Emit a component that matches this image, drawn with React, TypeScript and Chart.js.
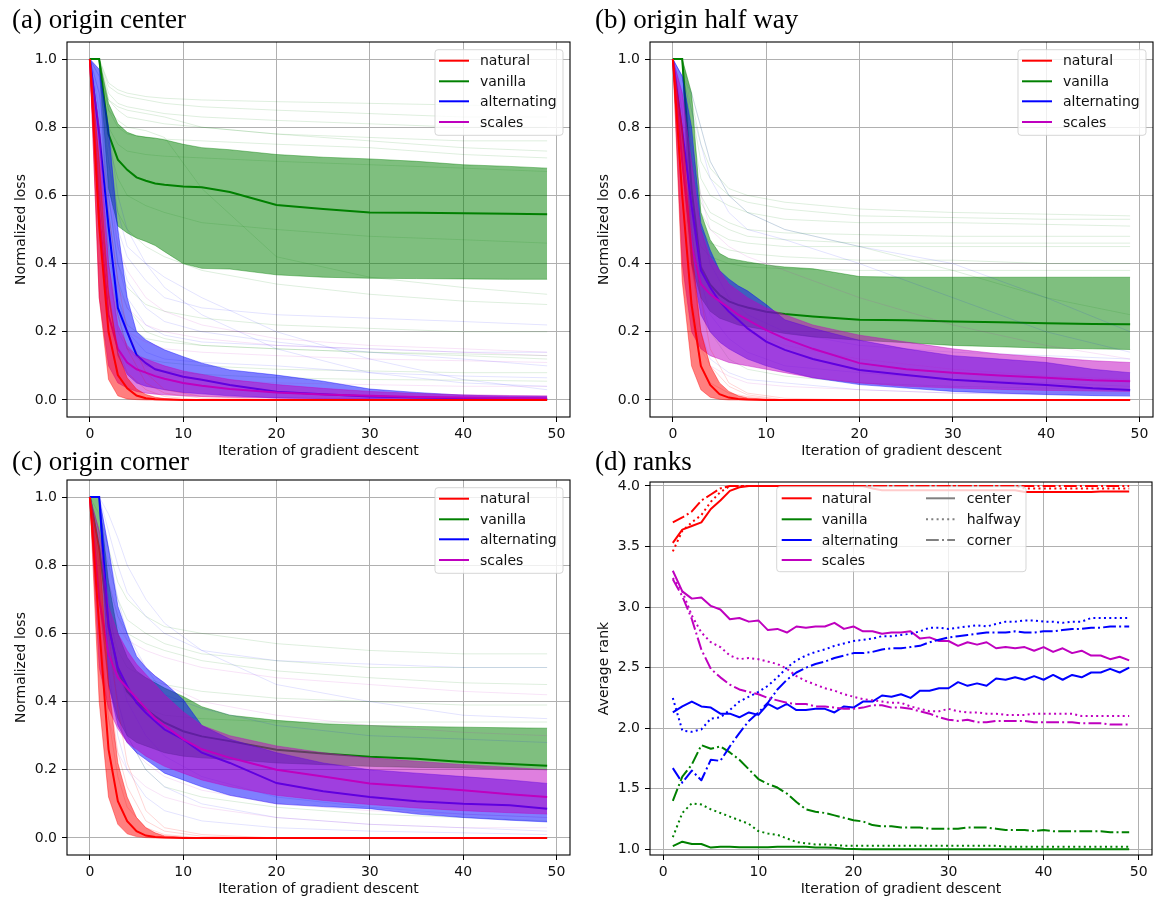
import React, { useEffect, useRef } from 'react';
import { Chart, registerables } from 'chart.js';

Chart.register(...registerables);
Chart.defaults.font.family = '"DejaVu Sans", sans-serif';
Chart.defaults.font.size = 14;
Chart.defaults.color = '#111';

// ---------- shared x grids ----------
const XS = [0, 1, 2, 3, 4, 5, 6, 7, 8, 10, 12, 15, 20, 25, 30, 35, 40, 45, 49];
const FX = [0, 1, 2, 3, 4, 6, 8, 12, 20, 30, 40, 49];
const LOSS_X_TICKS = [0, 10, 20, 30, 40, 50];
const LOSS_Y_TICKS = [0, 0.2, 0.4, 0.6, 0.8, 1.0];
const RANK_Y_TICKS = [1.0, 1.5, 2.0, 2.5, 3.0, 3.5, 4.0];
const METHOD_LABELS = ['natural', 'vanilla', 'alternating', 'scales'];
const ORIGIN_LABELS = ['center', 'halfway', 'corner'];

// ---------- (a) origin center ----------
const A_NAT_MED = [1, 0.51, 0.2, 0.073, 0.034, 0.013, 0.005, 0.002, 0.001, 0, 0, 0, 0, 0, 0, 0, 0, 0, 0];
const A_NAT_HI = [1, 0.7, 0.32, 0.14, 0.065, 0.032, 0.016, 0.008, 0.004, 0.001, 0, 0, 0, 0, 0, 0, 0, 0, 0];
const A_NAT_LO = [1, 0.3, 0.06, 0.012, 0.003, 0.001, 0, 0, 0, 0, 0, 0, 0, 0, 0, 0, 0, 0, 0];
const A_VAN_MED = [1, 1, 0.78, 0.705, 0.675, 0.653, 0.643, 0.635, 0.631, 0.626, 0.624, 0.61, 0.572, 0.56, 0.55, 0.549, 0.548, 0.546, 0.545];
const A_VAN_HI = [1, 1, 0.87, 0.81, 0.785, 0.775, 0.771, 0.768, 0.763, 0.75, 0.74, 0.734, 0.72, 0.712, 0.707, 0.7, 0.69, 0.685, 0.68];
const A_VAN_LO = [1, 1, 0.62, 0.51, 0.49, 0.475, 0.465, 0.453, 0.435, 0.4, 0.386, 0.384, 0.367, 0.36, 0.357, 0.356, 0.355, 0.354, 0.354];
const A_ALT_MED = [1, 0.78, 0.51, 0.27, 0.2, 0.132, 0.108, 0.09, 0.083, 0.068, 0.059, 0.044, 0.024, 0.017, 0.01, 0.007, 0.005, 0.004, 0.003];
const A_ALT_HI = [1, 0.97, 0.8, 0.5, 0.3, 0.2, 0.176, 0.161, 0.147, 0.127, 0.108, 0.088, 0.073, 0.055, 0.032, 0.022, 0.014, 0.011, 0.01];
const A_ALT_LO = [1, 0.6, 0.3, 0.13, 0.075, 0.05, 0.04, 0.035, 0.03, 0.022, 0.018, 0.012, 0.006, 0.004, 0.003, 0.002, 0.001, 0.001, 0.001];
const A_SCA_MED = [1, 0.55, 0.25, 0.15, 0.11, 0.09, 0.08, 0.07, 0.062, 0.05, 0.042, 0.032, 0.022, 0.016, 0.012, 0.009, 0.007, 0.006, 0.005];
const A_SCA_HI = [1, 0.8, 0.4, 0.22, 0.16, 0.13, 0.12, 0.11, 0.1, 0.085, 0.075, 0.06, 0.045, 0.034, 0.025, 0.019, 0.015, 0.013, 0.012];
const A_SCA_LO = [1, 0.3, 0.1, 0.05, 0.035, 0.025, 0.02, 0.017, 0.015, 0.012, 0.01, 0.008, 0.005, 0.003, 0.002, 0.001, 0.001, 0.001, 0.001];
const A_TRAJ_NAT = [
  [1, 0.7, 0.4, 0.25, 0.15, 0.05, 0.02, 0.005, 0, 0, 0, 0],
  [1, 0.8, 0.55, 0.35, 0.2, 0.08, 0.03, 0.01, 0, 0, 0, 0],
  [1, 0.6, 0.3, 0.15, 0.08, 0.03, 0.01, 0, 0, 0, 0, 0],
];
const A_TRAJ_VAN = [
  [1, 1, 0.93, 0.91, 0.9, 0.89, 0.885, 0.88, 0.875, 0.87, 0.865, 0.86],
  [1, 1, 0.92, 0.9, 0.89, 0.88, 0.87, 0.86, 0.85, 0.84, 0.83, 0.83],
  [1, 1, 0.9, 0.87, 0.86, 0.85, 0.84, 0.83, 0.82, 0.81, 0.8, 0.8],
  [1, 1, 0.88, 0.86, 0.85, 0.84, 0.83, 0.8, 0.78, 0.77, 0.76, 0.76],
  [1, 1, 0.88, 0.85, 0.83, 0.82, 0.81, 0.8, 0.78, 0.76, 0.74, 0.73],
  [1, 1, 0.85, 0.8, 0.78, 0.77, 0.765, 0.76, 0.75, 0.74, 0.72, 0.71],
  [1, 1, 0.8, 0.75, 0.73, 0.72, 0.715, 0.71, 0.7, 0.69, 0.68, 0.67],
  [1, 1, 0.75, 0.65, 0.6, 0.57, 0.55, 0.52, 0.5, 0.48, 0.47, 0.46],
  [1, 1, 0.7, 0.55, 0.5, 0.45, 0.42, 0.38, 0.34, 0.31, 0.29, 0.28],
  [1, 1, 0.6, 0.4, 0.33, 0.28, 0.26, 0.24, 0.22, 0.21, 0.2, 0.2],
  [1, 1, 0.55, 0.35, 0.27, 0.2, 0.18, 0.16, 0.15, 0.14, 0.13, 0.12],
  [1, 1, 0.5, 0.3, 0.22, 0.18, 0.17, 0.16, 0.15, 0.14, 0.135, 0.13],
  [1, 1, 0.4, 0.2, 0.15, 0.12, 0.11, 0.1, 0.09, 0.085, 0.08, 0.08],
  [1, 1, 0.45, 0.25, 0.15, 0.1, 0.085, 0.075, 0.065, 0.06, 0.058, 0.055],
  [1, 1, 0.85, 0.82, 0.8, 0.79, 0.77, 0.62, 0.42, 0.36, 0.33, 0.31],
];
const A_TRAJ_ALT = [
  [1, 0.9, 0.7, 0.5, 0.42, 0.35, 0.3, 0.27, 0.25, 0.24, 0.23, 0.22],
  [1, 0.85, 0.6, 0.4, 0.3, 0.22, 0.19, 0.17, 0.16, 0.15, 0.14, 0.14],
  [1, 0.9, 0.65, 0.45, 0.35, 0.27, 0.23, 0.2, 0.17, 0.14, 0.12, 0.1],
  [1, 0.8, 0.5, 0.3, 0.2, 0.14, 0.12, 0.11, 0.1, 0.08, 0.07, 0.065],
  [1, 0.95, 0.75, 0.55, 0.45, 0.4, 0.36, 0.3, 0.2, 0.12, 0.06, 0.03],
  [1, 0.95, 0.8, 0.6, 0.5, 0.4, 0.33, 0.25, 0.15, 0.08, 0.05, 0.04],
];
const A_TRAJ_SCA = [
  [1, 0.8, 0.6, 0.45, 0.38, 0.3, 0.26, 0.22, 0.18, 0.16, 0.15, 0.14],
  [1, 0.7, 0.45, 0.33, 0.27, 0.22, 0.2, 0.18, 0.16, 0.15, 0.14, 0.13],
  [1, 0.6, 0.35, 0.25, 0.2, 0.17, 0.15, 0.14, 0.13, 0.12, 0.115, 0.11],
  [1, 0.5, 0.25, 0.15, 0.1, 0.08, 0.07, 0.06, 0.05, 0.045, 0.04, 0.04],
];

// ---------- (b) origin half way ----------
const B_NAT_MED = [1, 0.6, 0.28, 0.1, 0.044, 0.017, 0.007, 0.003, 0.001, 0, 0, 0, 0, 0, 0, 0, 0, 0, 0];
const B_NAT_HI = [1, 0.8, 0.45, 0.2, 0.1, 0.05, 0.025, 0.012, 0.006, 0.002, 0, 0, 0, 0, 0, 0, 0, 0, 0];
const B_NAT_LO = [1, 0.35, 0.1, 0.03, 0.008, 0.002, 0, 0, 0, 0, 0, 0, 0, 0, 0, 0, 0, 0, 0];
const B_VAN_MED = [1, 1, 0.62, 0.39, 0.338, 0.308, 0.289, 0.279, 0.271, 0.259, 0.252, 0.245, 0.235, 0.234, 0.23, 0.228, 0.225, 0.223, 0.222];
const B_VAN_HI = [1, 1, 0.9, 0.55, 0.47, 0.43, 0.415, 0.41, 0.405, 0.396, 0.39, 0.385, 0.362, 0.36, 0.36, 0.36, 0.36, 0.36, 0.36];
const B_VAN_LO = [1, 1, 0.4, 0.3, 0.26, 0.24, 0.23, 0.22, 0.215, 0.205, 0.195, 0.185, 0.175, 0.168, 0.16, 0.156, 0.152, 0.15, 0.148];
const B_ALT_MED = [1, 0.79, 0.57, 0.38, 0.33, 0.289, 0.259, 0.235, 0.21, 0.171, 0.147, 0.12, 0.088, 0.073, 0.059, 0.051, 0.044, 0.034, 0.029];
const B_ALT_HI = [1, 0.95, 0.8, 0.52, 0.44, 0.38, 0.355, 0.335, 0.32, 0.28, 0.235, 0.21, 0.175, 0.15, 0.13, 0.12, 0.11, 0.09, 0.08];
const B_ALT_LO = [1, 0.7, 0.4, 0.25, 0.2, 0.17, 0.15, 0.135, 0.12, 0.1, 0.085, 0.065, 0.045, 0.035, 0.025, 0.02, 0.016, 0.013, 0.012];
const B_SCA_MED = [1, 0.7, 0.45, 0.34, 0.31, 0.29, 0.27, 0.25, 0.235, 0.205, 0.18, 0.15, 0.108, 0.09, 0.08, 0.072, 0.065, 0.058, 0.055];
const B_SCA_HI = [1, 0.9, 0.7, 0.5, 0.42, 0.38, 0.34, 0.32, 0.3, 0.27, 0.25, 0.22, 0.19, 0.17, 0.15, 0.135, 0.125, 0.115, 0.11];
const B_SCA_LO = [1, 0.4, 0.2, 0.15, 0.13, 0.12, 0.11, 0.105, 0.1, 0.09, 0.08, 0.065, 0.05, 0.04, 0.035, 0.031, 0.028, 0.026, 0.025];
const B_TRAJ_NAT = [
  [1, 0.8, 0.5, 0.3, 0.15, 0.05, 0.02, 0.005, 0, 0, 0, 0],
  [1, 0.6, 0.25, 0.1, 0.05, 0.02, 0.01, 0, 0, 0, 0, 0],
  [1, 0.7, 0.4, 0.2, 0.1, 0.04, 0.015, 0, 0, 0, 0, 0],
];
const B_TRAJ_VAN = [
  [1, 1, 0.88, 0.75, 0.68, 0.62, 0.6, 0.58, 0.56, 0.55, 0.545, 0.54],
  [1, 1, 0.85, 0.7, 0.65, 0.6, 0.58, 0.56, 0.54, 0.535, 0.53, 0.53],
  [1, 1, 0.8, 0.65, 0.6, 0.57, 0.55, 0.53, 0.52, 0.52, 0.515, 0.51],
  [1, 1, 0.75, 0.6, 0.55, 0.52, 0.5, 0.49, 0.485, 0.48, 0.48, 0.48],
  [1, 1, 0.72, 0.58, 0.53, 0.5, 0.48, 0.47, 0.46, 0.46, 0.46, 0.46],
  [1, 1, 0.7, 0.55, 0.5, 0.47, 0.46, 0.45, 0.45, 0.45, 0.45, 0.45],
  [1, 1, 0.65, 0.5, 0.46, 0.44, 0.43, 0.42, 0.41, 0.41, 0.4, 0.4],
  [1, 1, 0.6, 0.45, 0.42, 0.4, 0.39, 0.385, 0.38, 0.38, 0.38, 0.38],
  [1, 1, 0.9, 0.8, 0.7, 0.6, 0.55, 0.5, 0.45, 0.38, 0.3, 0.25],
  [1, 1, 0.5, 0.3, 0.2, 0.12, 0.09, 0.07, 0.05, 0.04, 0.035, 0.03],
];
const B_TRAJ_ALT = [
  [1, 0.95, 0.85, 0.75, 0.65, 0.55, 0.5, 0.47, 0.4, 0.3, 0.2, 0.14],
  [1, 0.95, 0.9, 0.8, 0.7, 0.6, 0.55, 0.5, 0.45, 0.4, 0.3, 0.2],
  [1, 0.9, 0.7, 0.5, 0.4, 0.3, 0.25, 0.2, 0.16, 0.14, 0.13, 0.12],
  [1, 0.85, 0.55, 0.35, 0.25, 0.18, 0.14, 0.1, 0.08, 0.06, 0.05, 0.04],
  [1, 0.8, 0.4, 0.2, 0.12, 0.08, 0.06, 0.05, 0.03, 0.02, 0.015, 0.01],
];
const B_TRAJ_SCA = [
  [1, 0.9, 0.75, 0.6, 0.5, 0.45, 0.42, 0.38, 0.3, 0.22, 0.16, 0.12],
  [1, 0.85, 0.55, 0.4, 0.32, 0.25, 0.2, 0.16, 0.12, 0.09, 0.07, 0.06],
  [1, 0.7, 0.3, 0.15, 0.1, 0.07, 0.05, 0.04, 0.03, 0.02, 0.02, 0.02],
];

// ---------- (c) origin corner ----------
const C_NAT_MED = [1, 0.62, 0.26, 0.108, 0.049, 0.02, 0.007, 0.003, 0.001, 0, 0, 0, 0, 0, 0, 0, 0, 0, 0];
const C_NAT_HI = [1, 0.85, 0.45, 0.22, 0.12, 0.06, 0.03, 0.015, 0.006, 0.002, 0, 0, 0, 0, 0, 0, 0, 0, 0];
const C_NAT_LO = [1, 0.4, 0.12, 0.04, 0.012, 0.004, 0.001, 0, 0, 0, 0, 0, 0, 0, 0, 0, 0, 0, 0];
const C_VAN_MED = [1, 0.85, 0.63, 0.49, 0.43, 0.4, 0.377, 0.357, 0.338, 0.313, 0.298, 0.284, 0.259, 0.248, 0.238, 0.232, 0.223, 0.217, 0.212];
const C_VAN_HI = [1, 1, 0.75, 0.6, 0.53, 0.49, 0.47, 0.455, 0.44, 0.415, 0.385, 0.36, 0.345, 0.335, 0.33, 0.327, 0.325, 0.323, 0.322];
const C_VAN_LO = [1, 0.7, 0.45, 0.35, 0.3, 0.28, 0.27, 0.26, 0.25, 0.24, 0.235, 0.23, 0.22, 0.215, 0.21, 0.207, 0.205, 0.202, 0.2];
const C_ALT_MED = [1, 1, 0.62, 0.5, 0.445, 0.396, 0.367, 0.342, 0.318, 0.289, 0.25, 0.22, 0.161, 0.137, 0.12, 0.108, 0.1, 0.096, 0.086];
const C_ALT_HI = [1, 1, 0.85, 0.68, 0.6, 0.533, 0.5, 0.475, 0.455, 0.406, 0.33, 0.29, 0.25, 0.22, 0.2, 0.19, 0.18, 0.17, 0.16];
const C_ALT_LO = [1, 1, 0.45, 0.33, 0.28, 0.25, 0.23, 0.21, 0.19, 0.17, 0.15, 0.125, 0.1, 0.092, 0.086, 0.07, 0.06, 0.052, 0.047];
const C_SCA_MED = [1, 0.7, 0.54, 0.47, 0.44, 0.41, 0.38, 0.35, 0.33, 0.29, 0.26, 0.235, 0.2, 0.18, 0.16, 0.15, 0.14, 0.128, 0.12];
const C_SCA_HI = [1, 0.9, 0.68, 0.6, 0.55, 0.51, 0.48, 0.45, 0.42, 0.37, 0.33, 0.3, 0.27, 0.25, 0.235, 0.225, 0.215, 0.207, 0.2];
const C_SCA_LO = [1, 0.5, 0.38, 0.32, 0.28, 0.26, 0.24, 0.225, 0.21, 0.19, 0.17, 0.15, 0.125, 0.11, 0.098, 0.088, 0.08, 0.074, 0.07];
const C_TRAJ_NAT = [
  [1, 0.75, 0.45, 0.25, 0.15, 0.05, 0.02, 0.005, 0, 0, 0, 0],
  [1, 0.85, 0.6, 0.38, 0.22, 0.08, 0.03, 0.01, 0, 0, 0, 0],
  [1, 0.65, 0.35, 0.18, 0.09, 0.03, 0.01, 0, 0, 0, 0, 0],
];
const C_TRAJ_VAN = [
  [1, 0.95, 0.85, 0.75, 0.7, 0.65, 0.62, 0.6, 0.57, 0.55, 0.54, 0.54],
  [1, 0.9, 0.8, 0.7, 0.64, 0.6, 0.57, 0.54, 0.52, 0.5, 0.5, 0.5],
  [1, 0.9, 0.75, 0.65, 0.6, 0.57, 0.55, 0.52, 0.49, 0.47, 0.455, 0.45],
  [1, 0.85, 0.65, 0.55, 0.5, 0.47, 0.45, 0.43, 0.41, 0.4, 0.39, 0.39],
  [1, 0.8, 0.6, 0.48, 0.42, 0.38, 0.36, 0.35, 0.34, 0.34, 0.34, 0.34],
  [1, 0.8, 0.55, 0.4, 0.3, 0.2, 0.15, 0.12, 0.09, 0.07, 0.06, 0.05],
];
const C_TRAJ_ALT = [
  [1, 1, 0.95, 0.88, 0.8, 0.7, 0.63, 0.55, 0.45, 0.4, 0.36, 0.35],
  [1, 1, 0.9, 0.8, 0.72, 0.65, 0.6, 0.55, 0.52, 0.51, 0.5, 0.5],
  [1, 1, 0.85, 0.7, 0.6, 0.5, 0.42, 0.38, 0.33, 0.3, 0.29, 0.28],
  [1, 1, 0.7, 0.5, 0.4, 0.3, 0.24, 0.18, 0.12, 0.09, 0.07, 0.06],
  [1, 1, 0.6, 0.4, 0.3, 0.2, 0.15, 0.1, 0.06, 0.04, 0.03, 0.02],
  [1, 1, 0.5, 0.3, 0.2, 0.12, 0.08, 0.05, 0.03, 0.02, 0.015, 0.01],
];
const C_TRAJ_SCA = [
  [1, 0.9, 0.75, 0.65, 0.58, 0.5, 0.45, 0.4, 0.36, 0.33, 0.31, 0.3],
  [1, 0.85, 0.7, 0.62, 0.58, 0.55, 0.53, 0.5, 0.47, 0.45, 0.43, 0.42],
  [1, 0.7, 0.45, 0.35, 0.28, 0.22, 0.18, 0.14, 0.1, 0.08, 0.07, 0.06],
  [1, 0.6, 0.35, 0.25, 0.2, 0.15, 0.12, 0.09, 0.06, 0.04, 0.03, 0.03],
];

// ---------- (d) ranks ----------
const RANK_X = [1, 2, 3, 4, 5, 6, 7, 8, 9, 10, 11, 12, 13, 14, 15, 16, 17, 18, 19, 20, 21, 22, 23, 24, 25, 26, 27, 28, 29, 30, 31, 32, 33, 34, 35, 36, 37, 38, 39, 40, 41, 42, 43, 44, 45, 46, 47, 48, 49];
const R_NAT_CENTER = [3.53, 3.64, 3.67, 3.7, 3.81, 3.88, 3.96, 3.99, 4, 4, 4, 4, 4, 4, 4, 4, 4, 4, 4, 4, 4, 3.98, 3.965, 3.965, 3.965, 3.965, 3.965, 3.965, 3.965, 3.965, 3.965, 3.965, 3.965, 3.965, 3.965, 3.965, 3.965, 3.95, 3.95, 3.95, 3.95, 3.95, 3.95, 3.95, 3.95, 3.955, 3.955, 3.955, 3.955];
const R_NAT_HALF = [3.46, 3.63, 3.7, 3.76, 3.87, 3.95, 4, 4, 4, 4, 4, 4, 4, 4, 4, 4, 4, 4, 4, 4, 4, 4, 4, 4, 4, 4, 4, 4, 4, 4, 4, 4, 4, 4, 4, 4, 4, 3.98, 3.98, 3.98, 3.98, 3.98, 3.98, 3.98, 3.98, 3.98, 3.98, 3.98, 3.98];
const R_NAT_CORNER = [3.7, 3.74, 3.79, 3.88, 3.93, 3.98, 4, 4, 4, 4, 4, 4, 4, 4, 4, 4, 4, 4, 4, 4, 4, 4, 4, 4, 4, 4, 4, 4, 4, 4, 4, 4, 4, 4, 4, 4, 4, 4, 4, 4, 4, 4, 4, 4, 4, 4, 4, 4, 4];
const R_VAN_CENTER = [1.027, 1.063, 1.044, 1.044, 1.014, 1.022, 1.022, 1.016, 1.016, 1.016, 1.016, 1.022, 1.022, 1.022, 1.022, 1.014, 1.014, 1.012, 1.005, 1.003, 1, 1, 1, 1, 1, 1, 1, 1, 1, 1, 1, 1, 1, 1, 1, 1, 1, 1, 1, 1, 1, 1, 1, 1, 1, 1, 1, 1, 1];
const R_VAN_HALF = [1.1, 1.3, 1.38, 1.37, 1.33, 1.3, 1.27, 1.24, 1.21, 1.15, 1.13, 1.12, 1.09, 1.06, 1.05, 1.04, 1.04, 1.035, 1.03, 1.03, 1.03, 1.03, 1.03, 1.03, 1.03, 1.03, 1.03, 1.03, 1.03, 1.03, 1.03, 1.03, 1.03, 1.03, 1.03, 1.022, 1.022, 1.022, 1.022, 1.022, 1.022, 1.022, 1.022, 1.022, 1.022, 1.022, 1.022, 1.022, 1.022];
const R_VAN_CORNER = [1.4, 1.6, 1.7, 1.86, 1.83, 1.85, 1.8, 1.74, 1.66, 1.58, 1.54, 1.51, 1.46, 1.39, 1.33, 1.31, 1.3, 1.28, 1.26, 1.24, 1.23, 1.2, 1.19, 1.19, 1.18, 1.18, 1.18, 1.17, 1.17, 1.17, 1.17, 1.18, 1.18, 1.18, 1.17, 1.16, 1.16, 1.16, 1.15, 1.16, 1.15, 1.15, 1.15, 1.15, 1.15, 1.15, 1.14, 1.14, 1.14];
const R_ALT_CENTER = [2.13, 2.18, 2.22, 2.18, 2.17, 2.12, 2.12, 2.09, 2.13, 2.11, 2.2, 2.16, 2.2, 2.15, 2.15, 2.16, 2.16, 2.13, 2.18, 2.17, 2.22, 2.22, 2.27, 2.26, 2.28, 2.25, 2.31, 2.31, 2.33, 2.33, 2.38, 2.35, 2.37, 2.35, 2.41, 2.4, 2.42, 2.4, 2.43, 2.4, 2.44, 2.4, 2.44, 2.42, 2.46, 2.46, 2.49, 2.46, 2.5];
const R_ALT_HALF = [2.25, 1.98, 1.97, 1.99, 2.08, 2.09, 2.15, 2.22, 2.26, 2.3, 2.35, 2.42, 2.5, 2.56, 2.6, 2.63, 2.65, 2.68, 2.7, 2.72, 2.73, 2.74, 2.76, 2.76, 2.77, 2.78, 2.8, 2.83, 2.83, 2.82, 2.83, 2.84, 2.85, 2.84, 2.86, 2.88, 2.88, 2.89, 2.89, 2.88, 2.88, 2.87, 2.88, 2.88, 2.91, 2.91, 2.91, 2.91, 2.91];
const R_ALT_CORNER = [1.67, 1.55, 1.65, 1.57, 1.74, 1.73, 1.85, 1.96, 2.06, 2.13, 2.21, 2.32, 2.4, 2.46, 2.5, 2.53, 2.55, 2.58, 2.6, 2.62, 2.62, 2.63, 2.65, 2.66, 2.66, 2.67, 2.68, 2.71, 2.73, 2.75, 2.76, 2.77, 2.78, 2.79, 2.79, 2.79, 2.8, 2.79, 2.79, 2.8, 2.8, 2.81, 2.82, 2.82, 2.83, 2.83, 2.84, 2.84, 2.84];
const R_SCA_CENTER = [3.3, 3.13, 3.07, 3.08, 3.01, 2.98, 2.9, 2.91, 2.88, 2.89, 2.81, 2.82, 2.79, 2.84, 2.83, 2.84, 2.84, 2.87, 2.82, 2.84, 2.8, 2.8, 2.78, 2.79, 2.79, 2.8, 2.74, 2.75, 2.72, 2.72, 2.68, 2.71, 2.69, 2.71, 2.66, 2.67, 2.66, 2.67, 2.64, 2.67, 2.63, 2.66, 2.62, 2.64, 2.6, 2.6, 2.57, 2.59, 2.56];
const R_SCA_HALF = [3.24, 3.13, 2.93, 2.79, 2.71, 2.67, 2.6, 2.57, 2.58, 2.57, 2.55, 2.53, 2.49, 2.43, 2.39, 2.36, 2.33, 2.31, 2.28, 2.26, 2.24, 2.23, 2.22, 2.21, 2.21, 2.18, 2.16, 2.14, 2.14, 2.16, 2.14, 2.13, 2.13, 2.12, 2.12, 2.11, 2.11, 2.11, 2.12, 2.12, 2.12, 2.12, 2.12, 2.1, 2.1, 2.1, 2.1, 2.1, 2.1];
const R_SCA_CORNER = [3.23, 3.09, 2.9, 2.65, 2.49, 2.42, 2.36, 2.32, 2.3, 2.28, 2.25, 2.23, 2.21, 2.2, 2.2, 2.18, 2.18, 2.17, 2.16, 2.16, 2.17, 2.19, 2.19, 2.17, 2.17, 2.16, 2.14, 2.12, 2.09, 2.07, 2.06, 2.07, 2.05, 2.05, 2.06, 2.06, 2.06, 2.06, 2.05, 2.05, 2.05, 2.05, 2.05, 2.04, 2.04, 2.04, 2.03, 2.03, 2.03];

// ---------- styles ----------
const COLORS = ['#ff0000', '#008000', '#0000ff', '#bf00bf'];
const BANDS = ['rgba(255,0,0,0.5)', 'rgba(0,128,0,0.5)', 'rgba(0,0,255,0.5)', 'rgba(191,0,191,0.5)'];
const FAINTS = ['rgba(255,0,0,0.16)', 'rgba(0,128,0,0.13)', 'rgba(0,0,255,0.11)', 'rgba(191,0,191,0.11)'];
const DRAW_SEQUENCE = [1, 2, 3, 0]; // vanilla, alternating, scales, natural on top
const DOTTED = [2, 3.3];
const DASHDOT = [12.8, 3.2, 2, 3.2];
const ORIGIN_DASH: number[][] = [[], DOTTED, DASHDOT];

const pts = (xs: number[], ys: number[]) => ys.map((y, i) => ({ x: xs[i], y }));

type MethodData = { med: number[]; lo: number[]; hi: number[]; traj: number[][] };

function lossDatasets(methods: MethodData[]) {
  const ds: any[] = [];
  DRAW_SEQUENCE.forEach((k) => {
    const m = methods[k];
    m.traj.forEach((t) => ds.push({ data: pts(FX, t), borderColor: FAINTS[k], borderWidth: 1, fill: false }));
    const lo = ds.length;
    ds.push({ data: pts(XS, m.lo), borderColor: BANDS[k], borderWidth: 0.8, fill: false });
    ds.push({ data: pts(XS, m.hi), borderColor: BANDS[k], borderWidth: 0.8, fill: lo, backgroundColor: BANDS[k] });
    ds.push({ data: pts(XS, m.med), borderColor: COLORS[k], borderWidth: 2, fill: false });
  });
  const n = ds.length;
  ds.forEach((d, i) => (d.order = n - i));
  return ds;
}

function rankDatasets() {
  const table = [
    [R_NAT_CENTER, R_VAN_CENTER, R_ALT_CENTER, R_SCA_CENTER],
    [R_NAT_HALF, R_VAN_HALF, R_ALT_HALF, R_SCA_HALF],
    [R_NAT_CORNER, R_VAN_CORNER, R_ALT_CORNER, R_SCA_CORNER],
  ];
  const ds: any[] = [];
  table.forEach((row, o) =>
    row.forEach((ys, k) =>
      ds.push({ data: pts(RANK_X, ys), borderColor: COLORS[k], borderWidth: 2, borderDash: ORIGIN_DASH[o], fill: false, borderCapStyle: 'butt', borderJoinStyle: 'round' })
    )
  );
  const n = ds.length;
  ds.forEach((d, i) => (d.order = n - i));
  return ds;
}

type LegendItem = { label: string; color: string; dash: number[] };
type LegendCol = { hx0: number; hx1: number; tx: number; items: LegendItem[] };
type PanelCfg = {
  left: number; top: number; width: number; height: number;
  padTop: number; padRight: number; yWidth: number; yTitlePad: number;
  xMin: number; xMax: number; yMin: number; yMax: number; yTicks: number[]; yTitle: string;
  title: string; titleX: number; titleY: number;
  legendBox: [number, number, number, number]; legendRows: number[]; legendCols: LegendCol[];
  datasets: any[];
};

function roundRect(ctx: CanvasRenderingContext2D, x: number, y: number, w: number, h: number, r: number) {
  ctx.beginPath();
  ctx.moveTo(x + r, y);
  ctx.lineTo(x + w - r, y);
  ctx.arcTo(x + w, y, x + w, y + r, r);
  ctx.lineTo(x + w, y + h - r);
  ctx.arcTo(x + w, y + h, x + w - r, y + h, r);
  ctx.lineTo(x + r, y + h);
  ctx.arcTo(x, y + h, x, y + h - r, r);
  ctx.lineTo(x, y + r);
  ctx.arcTo(x, y, x + r, y, r);
  ctx.closePath();
}

function Panel({ cfg }: { cfg: PanelCfg }) {
  const ref = useRef<HTMLCanvasElement | null>(null);
  useEffect(() => {
    if (!ref.current) return;
    const ox = cfg.left, oy = cfg.top;
    const deco = {
      id: 'deco',
      afterDraw(chart: any) {
        const ctx: CanvasRenderingContext2D = chart.ctx;
        const a = chart.chartArea;
        ctx.save();
        ctx.strokeStyle = '#000';
        ctx.lineWidth = 1.1;
        ctx.strokeRect(a.left, a.top, a.right - a.left, a.bottom - a.top);
        const [bx0, by0, bx1, by1] = cfg.legendBox;
        roundRect(ctx, bx0 - ox, by0 - oy, bx1 - bx0, by1 - by0, 3);
        ctx.fillStyle = 'rgba(255,255,255,0.8)';
        ctx.fill();
        ctx.strokeStyle = 'rgba(204,204,204,0.8)';
        ctx.lineWidth = 1;
        ctx.stroke();
        ctx.font = '14px "DejaVu Sans"';
        ctx.textBaseline = 'middle';
        ctx.textAlign = 'left';
        cfg.legendCols.forEach((col) => {
          col.items.forEach((it, r) => {
            const y = cfg.legendRows[r] - oy;
            ctx.beginPath();
            ctx.setLineDash(it.dash);
            ctx.lineCap = 'butt';
            ctx.strokeStyle = it.color;
            ctx.lineWidth = 2;
            ctx.moveTo(col.hx0 - ox, y);
            ctx.lineTo(col.hx1 - ox, y);
            ctx.stroke();
            ctx.setLineDash([]);
            ctx.fillStyle = '#111';
            ctx.fillText(it.label, col.tx - ox, y + 1);
          });
        });
        ctx.font = '27px "Liberation Serif"';
        ctx.textBaseline = 'alphabetic';
        ctx.fillStyle = '#000';
        ctx.fillText(cfg.title, cfg.titleX - ox, cfg.titleY - oy);
        ctx.restore();
      },
    };
    const gridOpts = { color: '#b0b0b0', lineWidth: 1, tickLength: 5, tickColor: '#000', tickWidth: 1 };
    const chart = new Chart(ref.current, {
      type: 'line',
      data: { datasets: cfg.datasets },
      options: {
        animation: false,
        responsive: false,
        devicePixelRatio: 1,
        events: [],
        layout: { padding: { left: 0, top: cfg.padTop, right: cfg.padRight, bottom: 0 } },
        elements: { point: { radius: 0 }, line: { tension: 0 } },
        plugins: { legend: { display: false }, tooltip: { enabled: false }, title: { display: false } },
        scales: {
          x: {
            type: 'linear',
            min: cfg.xMin,
            max: cfg.xMax,
            afterBuildTicks: (s: any) => { s.ticks = LOSS_X_TICKS.map((v) => ({ value: v })); },
            afterFit: (s: any) => { s.height = 45; },
            grid: gridOpts,
            border: { display: false },
            ticks: { padding: 4, color: '#111', font: { size: 14 }, maxRotation: 0, minRotation: 0, autoSkip: false, callback: (v: any) => String(v) },
            title: { display: true, text: 'Iteration of gradient descent', color: '#111', font: { size: 14 }, padding: { top: 0, bottom: 2 } },
          },
          y: {
            type: 'linear',
            min: cfg.yMin,
            max: cfg.yMax,
            afterBuildTicks: (s: any) => { s.ticks = cfg.yTicks.map((v) => ({ value: v })); },
            afterFit: (s: any) => { s.width = cfg.yWidth; },
            grid: gridOpts,
            border: { display: false },
            ticks: { padding: 5, color: '#111', font: { size: 14 }, autoSkip: false, callback: (v: any) => Number(v).toFixed(1) },
            title: { display: true, text: cfg.yTitle, color: '#111', font: { size: 14 }, padding: { top: cfg.yTitlePad, bottom: 0 } },
          },
        },
      } as any,
      plugins: [deco],
    });
    return () => chart.destroy();
  }, [cfg]);
  return (
    <canvas
      ref={ref}
      width={cfg.width}
      height={cfg.height}
      style={{ position: 'absolute', left: cfg.left, top: cfg.top, width: cfg.width, height: cfg.height }}
    />
  );
}

const methodItems = (): LegendItem[] => METHOD_LABELS.map((l, k) => ({ label: l, color: COLORS[k], dash: [] }));
const originItems = (): LegendItem[] => ORIGIN_LABELS.map((l, o) => ({ label: l, color: '#808080', dash: ORIGIN_DASH[o] }));

const PANELS: PanelCfg[] = [
  {
    left: 0, top: 0, width: 580, height: 462, padTop: 42, padRight: 10, yWidth: 67, yTitlePad: 13,
    xMin: -2.45, xMax: 51.45, yMin: -0.05, yMax: 1.05, yTicks: LOSS_Y_TICKS, yTitle: 'Normalized loss',
    title: '(a) origin center', titleX: 12, titleY: 28,
    legendBox: [435, 49.7, 563, 135.3], legendRows: [60.7, 81.3, 101.3, 122],
    legendCols: [{ hx0: 439, hx1: 469, tx: 480, items: methodItems() }],
    datasets: lossDatasets([
      { med: A_NAT_MED, lo: A_NAT_LO, hi: A_NAT_HI, traj: A_TRAJ_NAT },
      { med: A_VAN_MED, lo: A_VAN_LO, hi: A_VAN_HI, traj: A_TRAJ_VAN },
      { med: A_ALT_MED, lo: A_ALT_LO, hi: A_ALT_HI, traj: A_TRAJ_ALT },
      { med: A_SCA_MED, lo: A_SCA_LO, hi: A_SCA_HI, traj: A_TRAJ_SCA },
    ]),
  },
  {
    left: 580, top: 0, width: 576, height: 462, padTop: 42, padRight: 3, yWidth: 70, yTitlePad: 15.6,
    xMin: -2.45, xMax: 51.45, yMin: -0.05, yMax: 1.05, yTicks: LOSS_Y_TICKS, yTitle: 'Normalized loss',
    title: '(b) origin half way', titleX: 595, titleY: 28,
    legendBox: [1018, 49.7, 1146, 135.3], legendRows: [60.7, 81.3, 101.3, 122],
    legendCols: [{ hx0: 1022, hx1: 1052, tx: 1063, items: methodItems() }],
    datasets: lossDatasets([
      { med: B_NAT_MED, lo: B_NAT_LO, hi: B_NAT_HI, traj: B_TRAJ_NAT },
      { med: B_VAN_MED, lo: B_VAN_LO, hi: B_VAN_HI, traj: B_TRAJ_VAN },
      { med: B_ALT_MED, lo: B_ALT_LO, hi: B_ALT_HI, traj: B_TRAJ_ALT },
      { med: B_SCA_MED, lo: B_SCA_LO, hi: B_SCA_HI, traj: B_TRAJ_SCA },
    ]),
  },
  {
    left: 0, top: 438, width: 580, height: 462, padTop: 42, padRight: 10, yWidth: 67, yTitlePad: 13,
    xMin: -2.45, xMax: 51.45, yMin: -0.05, yMax: 1.05, yTicks: LOSS_Y_TICKS, yTitle: 'Normalized loss',
    title: '(c) origin corner', titleX: 12, titleY: 470,
    legendBox: [435, 487.7, 563, 573.3], legendRows: [498.7, 519.3, 539.3, 560],
    legendCols: [{ hx0: 439, hx1: 469, tx: 480, items: methodItems() }],
    datasets: lossDatasets([
      { med: C_NAT_MED, lo: C_NAT_LO, hi: C_NAT_HI, traj: C_TRAJ_NAT },
      { med: C_VAN_MED, lo: C_VAN_LO, hi: C_VAN_HI, traj: C_TRAJ_VAN },
      { med: C_ALT_MED, lo: C_ALT_LO, hi: C_ALT_HI, traj: C_TRAJ_ALT },
      { med: C_SCA_MED, lo: C_SCA_LO, hi: C_SCA_HI, traj: C_TRAJ_SCA },
    ]),
  },
  {
    left: 580, top: 438, width: 576, height: 462, padTop: 44, padRight: 4, yWidth: 70, yTitlePad: 15.6,
    xMin: -1.4, xMax: 51.4, yMin: 0.953, yMax: 4.033, yTicks: RANK_Y_TICKS, yTitle: 'Average rank',
    title: '(d) ranks', titleX: 595, titleY: 470,
    legendBox: [776.7, 486.7, 1026, 571.7], legendRows: [498.3, 519.3, 540, 560],
    legendCols: [
      { hx0: 781.7, hx1: 811.7, tx: 821.7, items: methodItems() },
      { hx0: 926, hx1: 955, tx: 966.7, items: originItems() },
    ],
    datasets: rankDatasets(),
  },
];

export default function App() {
  return (
    <div style={{ position: 'absolute', left: 0, top: 0, width: 1156, height: 900, background: '#fff', overflow: 'hidden' }}>
      {PANELS.map((p, i) => (
        <Panel key={i} cfg={p} />
      ))}
    </div>
  );
}
